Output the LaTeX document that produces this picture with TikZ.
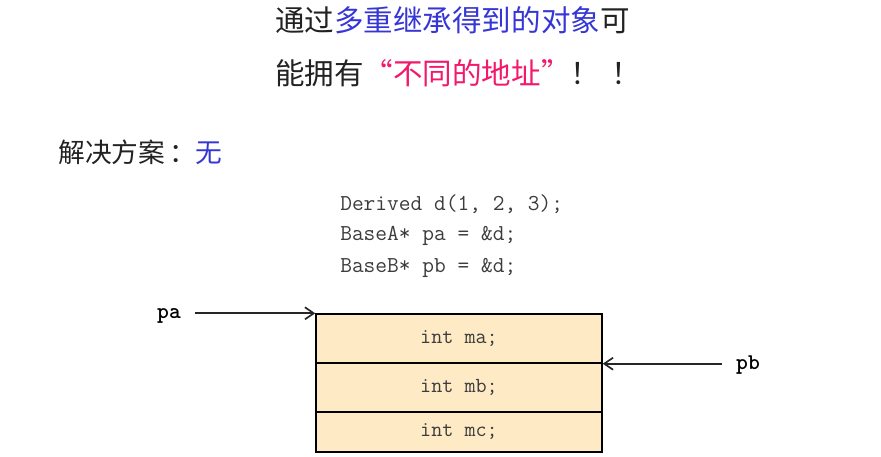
\documentclass[tikz,border=0pt]{standalone}
\usepackage{fontspec}
\newfontfamily\cjk{Noto Sans CJK SC}
\usepackage{tikz}
\usetikzlibrary{arrows.meta, positioning}
\usepackage{xcolor}
\definecolor{SlideBlue}{HTML}{3636D6}
\definecolor{SlidePink}{HTML}{F2186C}
\definecolor{SlideText}{HTML}{222222}
\definecolor{CodeGray}{HTML}{3C3C3C}
\definecolor{FieldFill}{HTML}{FEEBC6}
\tikzset{
    % Text styles
    titleline/.style={
        anchor=west,
        inner sep=0pt,
        text=SlideText,
        font=\cjk\fontsize{21pt}{25pt}\selectfont
    },
    codeline/.style={
        anchor=west,
        inner sep=0pt,
        text=CodeGray,
        font=\ttfamily\fontsize{16.2pt}{18pt}\selectfont
    },
    ptrlabel/.style={
        inner sep=0pt,
        text=black,
        font=\ttfamily\bfseries\fontsize{16pt}{18pt}\selectfont
    },
    % Memory layout boxes
    fieldbox/.style={
        rectangle,
        draw=black,
        fill=FieldFill,
        line width=1pt,
        minimum width=7.15cm,
        inner sep=0pt,
        text centered,
        text=CodeGray,
        font=\ttfamily\fontsize{15.3pt}{18pt}\selectfont
    },
    % Arrow styles
    myarrow/.style={
        -{Straight Barb[length=2.2mm, width=3mm]},
        line width=1.2pt,
        black!85
    }
}
\begin{document}
\begin{tikzpicture}[x=0.025cm, y=-0.025cm]
    \useasboundingbox (0,0) rectangle (881,456);

    \node[titleline] (t1) at (275,20) {通过\textcolor{SlideBlue}{多重继承得到的对象}可};
    \node[titleline] (t2) at (275,73) {能拥有\textcolor{SlidePink}{“不同的地址”}！\hspace{0.4em}！};
    \node[titleline, font=\cjk\fontsize{19pt}{23pt}\selectfont] (sol) at (58,152) {解决方案\hspace{0.15em}：\textcolor{SlideBlue}{无}};

    \node[codeline] (c1) at (340,204) {Derived d(1, 2, 3);};
    \node[codeline] (c2) at (340,236) {BaseA* pa = \&d;};
    \node[codeline] (c3) at (340,268) {BaseB* pb = \&d;};

    \node[fieldbox, minimum height=1.225cm] (ma) at (459,338.5) {int ma;};
    \node[fieldbox, minimum height=1.225cm] (mb) at (459,387.5) {int mb;};
    \node[fieldbox, minimum height=1cm] (mc) at (459,432) {int mc;};

    \node[ptrlabel] (pa) at (169,316) {pa};
    \node[ptrlabel] (pb) at (748,365) {pb};

    \draw[myarrow] ([xshift=0.35cm]pa.east |- ma.north) -- (ma.north west);
    \draw[myarrow] ([xshift=-0.35cm]pb.west |- ma.south) -- (ma.south east);
\end{tikzpicture}
\end{document}
